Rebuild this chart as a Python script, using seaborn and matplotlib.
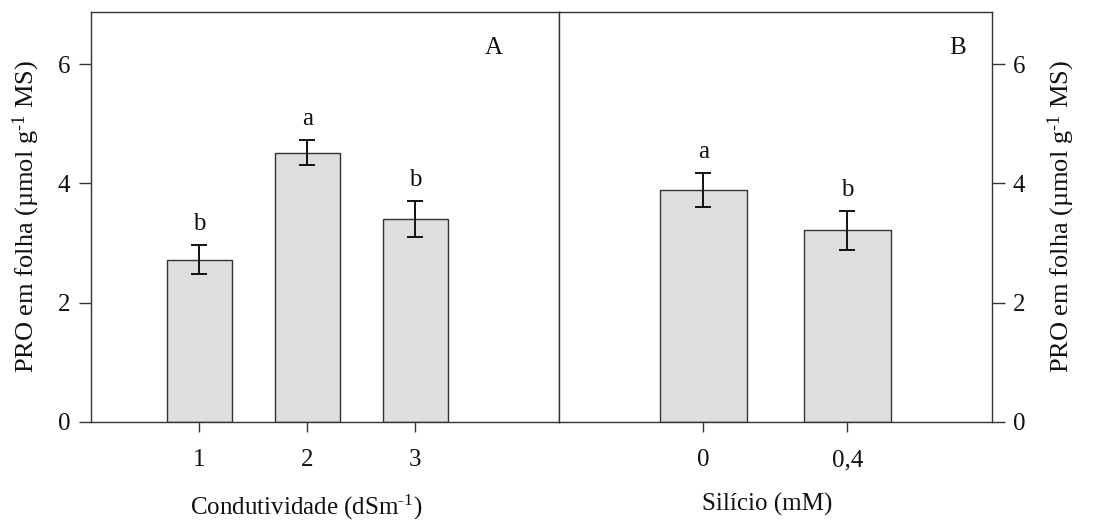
import matplotlib
matplotlib.use("Agg")
import matplotlib.pyplot as plt
import seaborn as sns
import pandas as pd

# Leaf proline content by electrical conductivity of the water (panel A)
cond_levels = ["1", "2", "3"]
cond_means = [2.72, 4.52, 3.40]
cond_err = [0.24, 0.21, 0.30]
cond_letters = ["b", "a", "b"]

# Leaf proline content by silicon dose (panel B)
si_levels = ["0", "0,4"]
si_means = [3.89, 3.21]
si_err = [0.28, 0.33]
si_letters = ["a", "b"]

y_label = r"PRO em folha (µmol g$^{\text{-1}}$ MS)"
y_ticks = [0, 2, 4, 6]

sns.set_theme(style="white")
plt.rcParams["font.family"] = ["Liberation Serif", "DejaVu Serif"]
plt.rcParams["mathtext.fontset"] = "custom"
plt.rcParams["mathtext.rm"] = "Liberation Serif"
plt.rcParams["mathtext.it"] = "Liberation Serif:italic"
plt.rcParams["mathtext.default"] = "rm"

FS = 18
FS_Y = 19
BAR_FILL = "#dedede"
EDGE = "#333333"
INK = "#111111"

fig = plt.figure(figsize=(11.09, 5.26), dpi=100)
W, H = 1109, 526
y_top, y_bot = 12, 421.6
ax_a = fig.add_axes([91 / W, 1 - y_bot / H, (559 - 91) / W, (y_bot - y_top) / H])
ax_b = fig.add_axes([559 / W, 1 - y_bot / H, (991.7 - 559) / W, (y_bot - y_top) / H])


def panel(ax, levels, means, errs, letters, tag, tag_x, xlabel, side, xlim, label_x):
    df = pd.DataFrame({"nivel": levels, "valor": means})
    sns.barplot(data=df, x="nivel", y="valor", order=levels, color=BAR_FILL,
                saturation=1, width=0.6, edgecolor=EDGE, linewidth=1.0,
                errorbar=None, ax=ax)
    for p in ax.patches:
        p.set_facecolor(BAR_FILL)
    pos = list(range(len(levels)))
    ax.errorbar(pos, means, yerr=errs, fmt="none", ecolor=INK,
                elinewidth=1.4, capsize=6, capthick=1.4, zorder=3)
    for x, m, e, s in zip(pos, means, errs, letters):
        ax.text(x, m + e + 0.17, s, ha="center", va="bottom", fontsize=FS,
                color=INK)
    ax.set_xlim(*xlim)
    ax.set_ylim(0, 6.88)
    ax.set_yticks(y_ticks)
    ax.set_yticklabels([str(t) for t in y_ticks])
    ax.text(tag_x, 0.912, tag, transform=ax.transAxes,
            ha="center", va="center", fontsize=FS, color=INK)
    ax.set_xlabel(xlabel, fontsize=FS, color=INK)
    ax.xaxis.set_label_coords(label_x, -0.175)
    ax.set_ylabel(y_label, fontsize=FS_Y, color=INK)
    for sp in ax.spines.values():
        sp.set_color(EDGE)
        sp.set_linewidth(1.0)
        sp.set_visible(True)
    ax.tick_params(axis="x", direction="out", length=7, width=1.0, color=EDGE,
                   pad=13, labelsize=FS, labelcolor=INK, bottom=True)
    if side == "left":
        ax.tick_params(axis="y", direction="out", length=9, width=1.0,
                       color=EDGE, pad=6, labelsize=FS, labelcolor=INK,
                       left=True, right=False)
        ax.yaxis.set_label_coords(-0.105, 0.5)
    else:
        ax.yaxis.tick_right()
        ax.yaxis.set_label_position("right")
        ax.tick_params(axis="y", direction="out", length=9, width=1.0,
                       color=EDGE, pad=6, labelsize=FS, labelcolor=INK,
                       left=False, right=True)
        ax.yaxis.set_label_coords(1.125, 0.5)
    ax.grid(False)


panel(ax_a, cond_levels, cond_means, cond_err, cond_letters, "A", 0.861,
      r"Condutividade (dSm$^{\text{-1}}$)", "left", (-1, 3.33), 0.46)
panel(ax_b, si_levels, si_means, si_err, si_letters, "B", 0.922,
      "Silício (mM)", "right", (-1, 2), 0.48)

fig.savefig("out.png", dpi=100)
